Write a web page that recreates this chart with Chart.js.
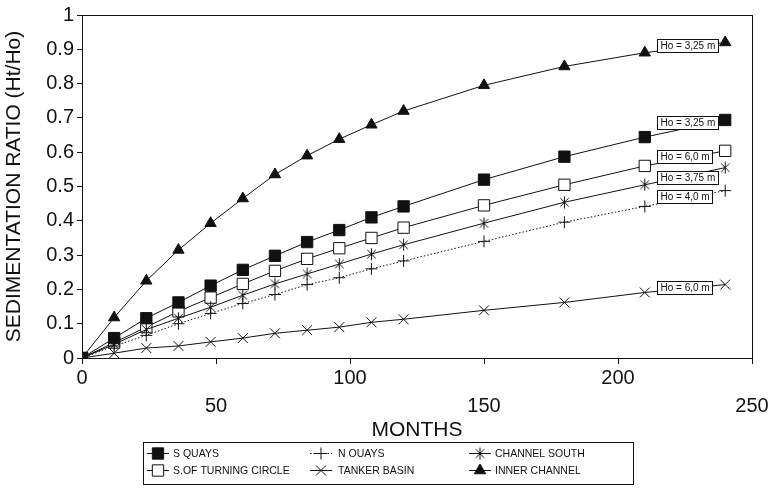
<!DOCTYPE html>
<html>
<head>
<meta charset="utf-8">
<script src="https://cdn.jsdelivr.net/npm/chart.js@4.4.1/dist/chart.umd.min.js"></script>
<style>
  html, body { margin: 0; padding: 0; background: #fff; }
  #wrap { width: 775px; height: 489px; position: relative; }
</style>
</head>
<body>
<div id="wrap"><canvas id="sedChart"></canvas></div>
<script>
// months after dredging
const months = [0, 12, 24, 36, 48, 60, 72, 84, 96, 108, 120, 150, 180, 210, 240];

// sedimentation ratio Ht/Ho per area
const sQuays        = [0, 0.058, 0.116, 0.162, 0.211, 0.257, 0.298, 0.338, 0.373, 0.41, 0.442, 0.52, 0.587, 0.644, 0.694];
const nQuays        = [0, 0.035, 0.066, 0.1, 0.13, 0.159, 0.185, 0.214, 0.234, 0.26, 0.283, 0.34, 0.396, 0.442, 0.488];
const channelSouth  = [0, 0.04, 0.083, 0.116, 0.148, 0.183, 0.216, 0.245, 0.274, 0.303, 0.33, 0.393, 0.454, 0.505, 0.555];
const turningCircle = [0, 0.045, 0.09, 0.136, 0.176, 0.216, 0.254, 0.289, 0.32, 0.35, 0.38, 0.445, 0.505, 0.56, 0.604];
const tankerBasin   = [0, 0.014, 0.029, 0.035, 0.047, 0.058, 0.072, 0.081, 0.09, 0.104, 0.113, 0.139, 0.162, 0.191, 0.214];
const innerChannel  = [0, 0.118, 0.225, 0.315, 0.393, 0.465, 0.535, 0.59, 0.638, 0.68, 0.72, 0.795, 0.85, 0.89, 0.92];

const seriesNames = ['S QUAYS', 'N OUAYS', 'CHANNEL SOUTH', 'S.OF TURNING CIRCLE', 'TANKER BASIN', 'INNER CHANNEL'];

// wave height labels near the end of each curve
const hoLabels = ['Ho = 3,25 m', 'Ho = 3,25 m', 'Ho = 6,0 m', 'Ho = 3,75 m', 'Ho = 4,0 m', 'Ho = 6,0 m'];
const hoValues = [0.91, 0.685, 0.587, 0.526, 0.468, 0.205];
const hoMonth = 214.5;

const INK = '#111';

// asterisk (X plus vertical bar) used for CHANNEL SOUTH
function makeAsterisk(size) {
  const c = document.createElement('canvas');
  c.width = size; c.height = size;
  const g = c.getContext('2d');
  g.strokeStyle = INK;
  g.lineWidth = 1;
  const m = size / 2, r = size / 2 - 0.5;
  const d = r * Math.SQRT1_2;
  g.beginPath();
  g.moveTo(m, m - r); g.lineTo(m, m + r);
  g.moveTo(m - d, m - d); g.lineTo(m + d, m + d);
  g.moveTo(m - d, m + d); g.lineTo(m + d, m - d);
  g.stroke();
  return c;
}
const asterisk = makeAsterisk(13);

function pts(vals) {
  return months.map((m, i) => ({ x: m, y: vals[i] }));
}

function series(label, vals, style, radius, fill, dash) {
  return {
    label: label,
    data: pts(vals),
    borderColor: INK,
    borderWidth: 1,
    borderDash: dash || [],
    pointStyle: style,
    pointRadius: radius,
    pointHoverRadius: radius,
    pointBackgroundColor: fill,
    pointBorderColor: INK,
    pointBorderWidth: 1,
    fill: false,
    tension: 0
  };
}

const datasets = [
  series(seriesNames[0], sQuays, 'rect', 8, INK),
  series(seriesNames[1], nQuays, 'cross', 6, INK, [1.5, 2]),
  series(seriesNames[2], channelSouth, asterisk, 6, INK),
  series(seriesNames[3], turningCircle, 'rect', 8, '#fff'),
  series(seriesNames[4], tankerBasin, 'crossRot', 7, INK),
  series(seriesNames[5], innerChannel, 'triangle', 6.5, INK)
];

// frame, Ho boxes and legend
const extras = {
  id: 'extras',
  afterDatasetsDraw(chart) {
    const { ctx, chartArea: a, scales } = chart;
    ctx.save();
    ctx.strokeStyle = INK;
    ctx.lineWidth = 1;
    ctx.strokeRect(Math.round(a.left) + 0.5, Math.round(a.top) + 0.5, Math.round(a.right - a.left), Math.round(a.bottom - a.top));

    ctx.font = '10px "Liberation Sans", Arial, sans-serif';
    ctx.textBaseline = 'middle';
    ctx.textAlign = 'left';
    hoLabels.forEach((t, i) => {
      const x = Math.round(scales.x.getPixelForValue(hoMonth)) + 0.5;
      const y = Math.round(scales.y.getPixelForValue(hoValues[i]));
      const w = Math.round(ctx.measureText(t).width) + 6;
      ctx.fillStyle = '#fff';
      ctx.fillRect(x, y - 6.5, w, 13);
      ctx.strokeRect(x, y - 6.5, w, 13);
      ctx.fillStyle = INK;
      ctx.fillText(t, x + 3, y + 0.5);
    });
    ctx.restore();
  },
  afterDraw(chart) {
    const ctx = chart.ctx;
    ctx.save();
    ctx.strokeStyle = INK;
    ctx.lineWidth = 1;
    ctx.strokeRect(143.5, 442.5, 490, 42);
    const cols = [158, 321, 480];
    const textX = [173, 338, 495];
    const rows = [453, 470];
    ctx.font = '10.5px "Liberation Sans", Arial, sans-serif';
    ctx.textBaseline = 'middle';
    chart.data.datasets.forEach((ds, i) => {
      const c = i % 3, r = Math.floor(i / 3);
      const cx = cols[c], cy = rows[r] + 0.5;
      ctx.strokeStyle = INK;
      ctx.setLineDash(ds.borderDash);
      ctx.beginPath();
      ctx.moveTo(cx - 11, cy); ctx.lineTo(cx + 11, cy);
      ctx.stroke();
      ctx.setLineDash([]);
      ctx.fillStyle = ds.pointBackgroundColor;
      Chart.helpers.drawPoint(ctx, {
        pointStyle: ds.pointStyle,
        radius: ds.pointRadius,
        rotation: 0,
        borderWidth: 1
      }, cx, cy);
      ctx.fillStyle = INK;
      ctx.fillText(ds.label, textX[c], rows[r] + 1);
    });
    ctx.restore();
  }
};

const axisFont = { family: '"Liberation Sans", Arial, sans-serif', size: 20 };

new Chart(document.getElementById('sedChart'), {
  type: 'line',
  data: { datasets: datasets },
  options: {
    responsive: true,
    maintainAspectRatio: false,
    animation: false,
    layout: { padding: { top: 12, right: 23, bottom: 0, left: 0 } },
    plugins: { legend: { display: false }, tooltip: { enabled: false } },
    scales: {
      x: {
        type: 'linear',
        min: 0,
        max: 250,
        afterFit: s => { s.height = 131; },
        ticks: {
          stepSize: 50,
          autoSkip: false,
          maxRotation: 0,
          padding: 0,
          color: INK,
          font: Object.assign({}, axisFont, { lineHeight: 1.4 }),
          // alternate labels drop to a second row
          callback: v => ((v / 50) % 2 === 1 ? ['', String(v)] : String(v))
        },
        grid: { display: true, drawOnChartArea: false, drawTicks: true, tickLength: 6, color: INK },
        border: { display: true, color: INK, width: 1 },
        title: {
          display: true,
          text: 'MONTHS',
          color: INK,
          font: { family: '"Liberation Sans", Arial, sans-serif', size: 21 },
          padding: { top: 0, bottom: 46 }
        }
      },
      y: {
        min: 0,
        max: 1,
        afterFit: s => { s.width = 82; },
        ticks: {
          stepSize: 0.1,
          padding: 3,
          color: INK,
          font: axisFont,
          callback: v => (v === 0 || v === 1 ? String(v) : v.toFixed(1))
        },
        grid: { display: true, drawOnChartArea: false, drawTicks: true, tickLength: 5, color: INK },
        border: { display: true, color: INK, width: 1 },
        title: {
          display: true,
          text: 'SEDIMENTATION RATIO (Ht/Ho)',
          color: INK,
          font: { family: '"Liberation Sans", Arial, sans-serif', size: 21 },
          padding: { top: 2, bottom: 0 }
        }
      }
    }
  },
  plugins: [extras]
});
</script>
</body>
</html>
